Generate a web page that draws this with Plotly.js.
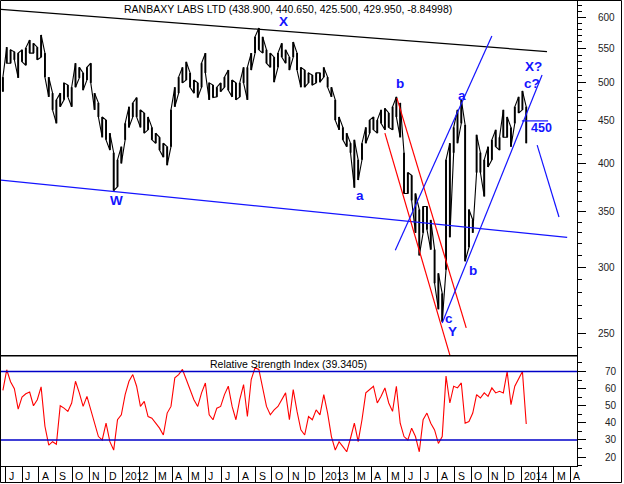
<!DOCTYPE html>
<html><head><meta charset="utf-8">
<script src="https://cdn.plot.ly/plotly-3.0.1.min.js"></script>
<style>html,body{margin:0;padding:0;background:#fff}#chart{width:624px;height:484px}</style>
</head><body><div id="chart"></div>
<script>
const weeks = [
'2011-05-27','2011-06-03','2011-06-10','2011-06-17','2011-06-24','2011-07-01','2011-07-08','2011-07-15','2011-07-22','2011-07-29',
'2011-08-05','2011-08-12','2011-08-19','2011-08-26','2011-09-02','2011-09-09','2011-09-16','2011-09-23','2011-09-30','2011-10-07',
'2011-10-14','2011-10-21','2011-10-28','2011-11-04','2011-11-11','2011-11-18','2011-11-25','2011-12-02','2011-12-09','2011-12-16',
'2011-12-23','2011-12-30','2012-01-06','2012-01-13','2012-01-20','2012-01-27','2012-02-03','2012-02-10','2012-02-17','2012-02-24',
'2012-03-02','2012-03-09','2012-03-16','2012-03-23','2012-03-30','2012-04-06','2012-04-13','2012-04-20','2012-04-27','2012-05-04',
'2012-05-11','2012-05-18','2012-05-25','2012-06-01','2012-06-08','2012-06-15','2012-06-22','2012-06-29','2012-07-06','2012-07-13',
'2012-07-20','2012-07-27','2012-08-03','2012-08-10','2012-08-17','2012-08-24','2012-08-31','2012-09-07','2012-09-14','2012-09-21',
'2012-09-28','2012-10-05','2012-10-12','2012-10-19','2012-10-26','2012-11-02','2012-11-09','2012-11-16','2012-11-23','2012-11-30',
'2012-12-07','2012-12-14','2012-12-21','2012-12-28','2013-01-04','2013-01-11','2013-01-18','2013-01-25','2013-02-01','2013-02-08',
'2013-02-15','2013-02-22','2013-03-01','2013-03-08','2013-03-15','2013-03-22','2013-03-29','2013-04-05','2013-04-12','2013-04-19',
'2013-04-26','2013-05-03','2013-05-10','2013-05-17','2013-05-24','2013-05-31','2013-06-07','2013-06-14','2013-06-21','2013-06-28',
'2013-07-05','2013-07-12','2013-07-19','2013-07-26','2013-08-02','2013-08-09','2013-08-16','2013-08-23','2013-08-30','2013-09-06',
'2013-09-13','2013-09-20','2013-09-27','2013-10-04','2013-10-11','2013-10-18','2013-10-25','2013-11-01','2013-11-08','2013-11-15',
'2013-11-22','2013-11-29','2013-12-06','2013-12-13','2013-12-20','2013-12-27','2014-01-03','2014-01-10'];
const highs = [
508,552,548,545,543,548,551,563,558,552,
571,543,508,486,477,486,500,497,494,528,
522,514,522,528,486,473,455,451,435,412,
404,419,447,468,473,480,464,460,455,442,
435,430,423,419,464,494,508,522,530,514,
504,500,528,543,500,497,494,500,508,518,
504,500,500,522,522,543,568,582,568,548,
543,537,543,558,548,537,560,543,522,518,
514,511,514,514,522,508,494,477,455,442,
435,423,427,404,423,442,451,455,451,464,
466,460,468,481,473,412,390,387,368,352,
355,355,342,315,295,279,404,423,442,464,
477,445,352,342,433,412,404,419,427,439,
430,464,455,442,468,481,489,468];
const lows = [
488,528,528,533,507,530,525,543,543,533,
537,508,481,464,447,468,477,481,468,494,
507,490,504,500,464,455,430,427,415,371,
375,400,427,442,455,455,442,435,439,427,
423,415,407,398,419,468,486,500,504,494,
486,480,494,514,477,480,481,488,494,490,
481,477,481,500,477,518,543,548,543,528,
522,501,522,537,528,518,537,518,494,494,
500,497,500,501,508,494,481,451,439,427,
419,412,374,382,404,423,435,439,435,447,
439,442,439,455,430,368,368,361,330,310,
330,333,315,287,267,258,298,326,412,423,
447,305,317,330,390,390,365,396,404,419,
415,430,430,419,447,460,464,423];
const rsi = [
59,71,64,60,48,55,57,58,50,53.5,
61,38,27,29,27.5,50,48.6,46.7,51.6,64.3,
57.5,49.6,55.5,47.6,40.8,32,30,39.8,29,24.1,
41.8,44.7,56.5,64.3,68.2,61.4,49.6,52.5,43.7,42.7,
39.8,36.9,32.9,45.7,49.6,66.3,68.2,71.2,65.3,59.4,
53.5,49.6,57.5,63.3,44.7,41.8,48.6,49.6,56.5,61.4,
49.6,41.8,53.5,62.4,43.7,65.3,72.2,71.2,59.4,49.6,
44.7,47.6,49.6,53.5,57.5,41.8,59.4,46.7,35.9,32.9,
43.7,41.8,47.6,44.7,56.5,45.7,32,24.1,29,26.1,
23.1,31,39.8,29,41.8,57.5,59.4,61.4,51.6,55.5,
60.4,51.6,46.7,61.4,39.8,32,30,36.9,32,23.1,
41.8,45.7,39.8,35.9,28,32,67.3,51.6,61.4,60.4,
63.3,39.8,40.8,45.7,56.5,54.5,57.5,55.5,60.4,57.5,
58.4,57.5,70,50.6,61.4,65.3,70,39.3405];

const chartTitle = 'RANBAXY LABS LTD (438.900, 440.650, 425.500, 429.950, -8.84998)';
const rsiTitle = 'Relative Strength Index (39.3405)';
const priceTicks = [250,300,350,400,450,500,550,600];
const priceMinor = [240,260,270,280,290,310,320,330,340,360,370,380,390,410,420,430,440,460,470,480,490,510,520,530,540,560,570,580,590,610,620];
const rsiTicks = [20,30,40,50,60,70];
const rsiMinor = [15,25,35,45,55,65,75];
const rsiBands = [30,70];
const monthStarts = ['2011-06-01','2011-07-01','2011-08-01','2011-09-01','2011-10-01','2011-11-01','2011-12-01',
'2012-01-01','2012-02-01','2012-03-01','2012-04-01','2012-05-01','2012-06-01','2012-07-01','2012-08-01','2012-09-01','2012-10-01','2012-11-01','2012-12-01',
'2013-01-01','2013-02-01','2013-03-01','2013-04-01','2013-05-01','2013-06-01','2013-07-01','2013-08-01','2013-09-01','2013-10-01','2013-11-01','2013-12-01',
'2014-01-01','2014-02-01','2014-03-01','2014-04-01'];
const monthLabels = ['J','J','A','S','O','N','D',
'2012','','M','A','M','J','J','A','S','O','N','D',
'2013','','M','A','M','J','J','A','S','O','N','D',
'2014','','M','A'];

// hand-drawn trend lines (date, price)
const upperX = ['2011-05-23','2014-02-17'], upperY = [612.9,545.3];
const lowerX = ['2011-05-23','2014-03-26'], lowerY = [382.0,325.9];
const redRightX = ['2013-05-18','2013-09-22'], redRightY = [479.3,253.6];
const redLeftX = ['2013-04-26','2013-08-23'], redLeftY = [435.1,235.2];
const blueChanX = ['2013-05-15','2013-11-08'], blueChanY = [314.5,569.2];
const blueRiseX = ['2013-08-09','2014-02-08'], blueRiseY = [257.0,510.9];
const blueProjX = ['2014-01-30','2014-03-11'], blueProjY = [420.8,344.8];
const lvlX = ['2014-01-02','2014-02-19'], lvlY = [450,450];

const waveText = ['X','W','a','b','a','b','c','Y','X?','c?','450'];
const waveDate = ['2012-10-23','2011-12-22','2013-03-12','2013-05-24','2013-09-15','2013-10-05','2013-08-22','2013-08-27','2014-01-23','2014-01-20','2014-02-07'];
const wavePrice = [593.4,361.3,366.4,499.0,483.4,297.1,260.3,250.9,522.7,499.3,440.8];

const FONT = 'Liberation Sans, Arial, sans-serif';
const BLUE = '#1414ff';

// zig-zag through weekly highs/lows plus vertical range bars
const px = [], py = [], bx = [], by = [];
weeks.forEach((d,i)=>{
  const a = i%2 ? highs[i] : lows[i];
  const b = i%2 ? lows[i] : highs[i];
  px.push(d,d); py.push(a,b);
  bx.push(d,d,null); by.push(lows[i],highs[i],null);
});

function seg(x,y,color){
  return {type:'scatter',mode:'lines',x:x,y:y,xaxis:'x',yaxis:'y',line:{color:color,width:1.2},hoverinfo:'skip',showlegend:false};
}

const traces = [
  {type:'scatter',mode:'lines',x:px,y:py,xaxis:'x',yaxis:'y',line:{color:'#000',width:1.1},hoverinfo:'skip',showlegend:false},
  {type:'scatter',mode:'lines',x:bx,y:by,xaxis:'x',yaxis:'y',line:{color:'#000',width:1.9},connectgaps:false,hoverinfo:'skip',showlegend:false},
  seg(upperX,upperY,'#000'),
  seg(lowerX,lowerY,BLUE),
  seg(redRightX,redRightY,'#ff0000'),
  seg(redLeftX,redLeftY,'#ff0000'),
  seg(blueChanX,blueChanY,BLUE),
  seg(blueRiseX,blueRiseY,BLUE),
  seg(blueProjX,blueProjY,BLUE),
  seg(lvlX,lvlY,BLUE),
  {type:'scatter',mode:'lines',x:weeks,y:rsi,xaxis:'x',yaxis:'y2',line:{color:'#ff0000',width:1.1},hoverinfo:'skip',showlegend:false}
];

const L=1, R=47, T=1, B=18, W=624, H=484;
const pw = W-L-R, ph = H-T-B;
const splitPx = 356;
const split = (H-B-splitPx)/ph;
function paperX(pix){return (pix-L)/pw;}
function paperY(pix){return (H-B-pix)/ph;}

const annotations = [];
annotations.push({xref:'paper',yref:'paper',x:paperX(288),y:paperY(9),yanchor:'middle',text:chartTitle,showarrow:false,font:{family:FONT,size:10.5,color:'#000'}});
annotations.push({xref:'paper',yref:'paper',x:paperX(288),y:paperY(364),yanchor:'middle',text:rsiTitle,showarrow:false,font:{family:FONT,size:10.5,color:'#000'}});
waveText.forEach((t,i)=>{
  annotations.push({xref:'x',yref:'y',x:waveDate[i],y:Math.log10(wavePrice[i]),xanchor:'center',yanchor:'middle',text:t,showarrow:false,
    font:{family:FONT,size:t==='450'?12.5:13.5,color:BLUE,weight:'bold'}});
});
monthStarts.forEach((d,i)=>{
  if(!monthLabels[i]) return;
  annotations.push({xref:'x',yref:'paper',x:d,y:0,xanchor:'left',yanchor:'top',xshift:1,yshift:-2,text:monthLabels[i],showarrow:false,
    font:{family:FONT,size:10.5,color:'#000'}});
});

const shapes = rsiBands.map(v=>({type:'line',xref:'paper',yref:'y2',x0:0,x1:1,y0:v,y1:v,line:{color:'#0000c8',width:1.5}}));
shapes.push({type:'line',xref:'paper',yref:'paper',x0:0,x1:1,y0:split,y1:split,line:{color:'#000',width:1.2}});
shapes.push({type:'rect',xref:'paper',yref:'paper',x0:paperX(0.5),x1:paperX(621.5),y0:paperY(482.5),y1:paperY(0.5),line:{color:'#000',width:1}});

const tickFont = {family:FONT,size:10,color:'#222'};
const layout = {
  width:W,height:H,margin:{l:L,r:R,t:T,b:B},paper_bgcolor:'#fff',plot_bgcolor:'#fff',showlegend:false,
  xaxis:{type:'date',range:['2011-05-23 12:00','2014-04-13'],anchor:'y2',showline:true,linecolor:'#000',linewidth:1,mirror:true,
    tickmode:'array',tickvals:monthStarts,ticktext:monthStarts.map(()=>''),ticks:'outside',ticklen:16,tickcolor:'#000',tickwidth:1,
    showgrid:false,zeroline:false,fixedrange:true},
  yaxis:{domain:[split,1],type:'log',range:[2.3703,2.7975],side:'right',anchor:'x',showline:true,linecolor:'#000',linewidth:1,mirror:true,
    tickmode:'array',tickvals:priceTicks,ticktext:priceTicks.map(String),ticks:'outside',ticklen:8,tickcolor:'#000',
    minor:{tickmode:'array',tickvals:priceMinor,ticks:'outside',ticklen:4,tickcolor:'#000'},
    ticklabelstandoff:10,tickfont:tickFont,showgrid:false,zeroline:false},
  yaxis2:{domain:[0,split],range:[14.8,79.05],side:'right',anchor:'x',showline:true,linecolor:'#000',linewidth:1,mirror:true,
    tickmode:'array',tickvals:rsiTicks,ticktext:rsiTicks.map(String),ticks:'outside',ticklen:8,tickcolor:'#000',
    minor:{tickmode:'array',tickvals:rsiMinor,ticks:'outside',ticklen:4,tickcolor:'#000'},
    ticklabelstandoff:17,tickfont:tickFont,showgrid:false,zeroline:false},
  annotations:annotations,shapes:shapes
};
Plotly.newPlot('chart',traces,layout,{displayModeBar:false,staticPlot:true});
</script></body></html>
